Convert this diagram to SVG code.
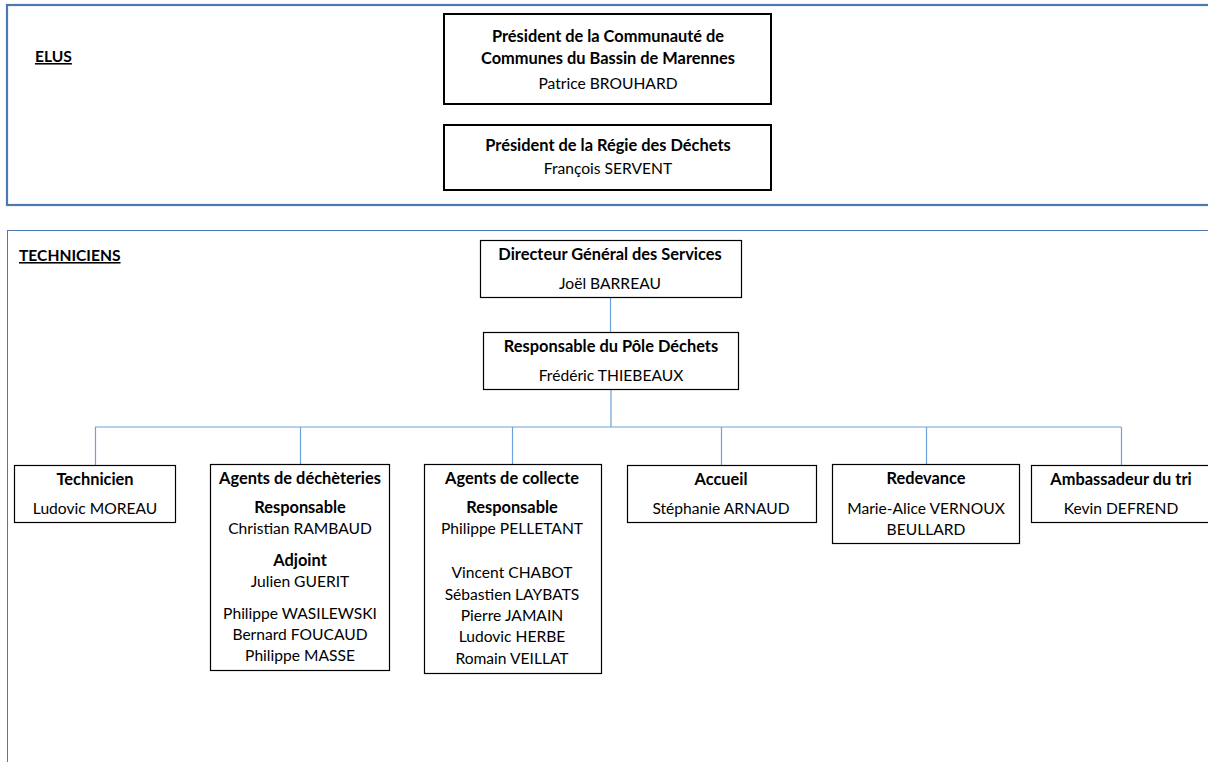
<svg xmlns="http://www.w3.org/2000/svg" width="1208" height="762" viewBox="0 0 1208 762">
<style>
text{font-family:Lato,"Liberation Sans",sans-serif;font-size:15.6px;fill:#000;text-anchor:middle}
.b{font-weight:bold;font-size:16.4px}
.lbl{text-anchor:start;font-weight:bold;text-decoration:underline;font-size:15.6px}
.box{fill:#fff;stroke:#000;stroke-width:1.2}
.box2{fill:#fff;stroke:#000;stroke-width:2}
.panel{fill:none;stroke:#4a7ab0}
.con{fill:none;stroke:#6aa2dc;stroke-width:1.2}
</style>
<rect width="1208" height="762" fill="#fff"/>
<g id="panel-elus">
<rect class="panel" x="7" y="5" width="1220" height="200" stroke-width="2.2"/>
<text class="lbl" x="35" y="62">ELUS</text>
</g>
<g id="panel-techniciens">
<rect class="panel" x="7.5" y="230.5" width="1220" height="560" stroke-width="1"/>
<text class="lbl" x="19" y="261">TECHNICIENS</text>
</g>
<g id="connectors">
<line class="con" x1="610.5" y1="297" x2="610.5" y2="332" stroke="#9cc3e8"/>
<line class="con" x1="611" y1="389" x2="611" y2="427" stroke-width="2"/>
<line class="con" x1="95" y1="427" x2="1121" y2="427" stroke-width="1.5"/>
<line class="con" x1="95.5" y1="427" x2="95.5" y2="465" stroke="#9cc3e8"/>
<line class="con" x1="300.5" y1="427" x2="300.5" y2="464" stroke="#9cc3e8"/>
<line class="con" x1="512.5" y1="427" x2="512.5" y2="464"/>
<line class="con" x1="721.5" y1="427" x2="721.5" y2="465"/>
<line class="con" x1="926.5" y1="427" x2="926.5" y2="464" stroke="#9cc3e8"/>
<line class="con" x1="1121.5" y1="427" x2="1121.5" y2="465"/>
</g>
<g id="president-ccbm">
<rect class="box2" x="444" y="14" width="327" height="90"/>
<text class="b" x="608" y="42">Président de la Communauté de</text>
<text class="b" x="608" y="64">Communes du Bassin de Marennes</text>
<text x="608" y="89">Patrice BROUHARD</text>
</g>
<g id="president-regie">
<rect class="box2" x="444" y="125" width="327" height="65"/>
<text class="b" x="608" y="151">Président de la Régie des Déchets</text>
<text x="608" y="174">François SERVENT</text>
</g>
<g id="dgs">
<rect class="box" x="480.5" y="240.5" width="261" height="57"/>
<text class="b" x="610" y="260">Directeur Général des Services</text>
<text x="610" y="289">Joël BARREAU</text>
</g>
<g id="resp-pole">
<rect class="box" x="483.5" y="332.5" width="255" height="57"/>
<text class="b" x="611" y="352">Responsable du Pôle Déchets</text>
<text x="611" y="381">Frédéric THIEBEAUX</text>
</g>
<g id="technicien">
<rect class="box" x="14.5" y="465.5" width="161" height="57"/>
<text class="b" x="95" y="485">Technicien</text>
<text x="95" y="514">Ludovic MOREAU</text>
</g>
<g id="decheteries">
<rect class="box" x="210.5" y="464.5" width="179" height="206"/>
<text class="b" x="300" y="484">Agents de déchèteries</text>
<text class="b" x="300" y="513">Responsable</text>
<text x="300" y="534">Christian RAMBAUD</text>
<text class="b" x="300" y="566">Adjoint</text>
<text x="300" y="587">Julien GUERIT</text>
<text x="300" y="619">Philippe WASILEWSKI</text>
<text x="300" y="640">Bernard FOUCAUD</text>
<text x="300" y="661">Philippe MASSE</text>
</g>
<g id="collecte">
<rect class="box" x="424.5" y="464.5" width="177" height="209"/>
<text class="b" x="512" y="484">Agents de collecte</text>
<text class="b" x="512" y="513">Responsable</text>
<text x="512" y="534">Philippe PELLETANT</text>
<text x="512" y="578">Vincent CHABOT</text>
<text x="512" y="600">Sébastien LAYBATS</text>
<text x="512" y="621">Pierre JAMAIN</text>
<text x="512" y="642">Ludovic HERBE</text>
<text x="512" y="664">Romain VEILLAT</text>
</g>
<g id="accueil">
<rect class="box" x="627.5" y="465.5" width="189" height="57"/>
<text class="b" x="721" y="485">Accueil</text>
<text x="721" y="514">Stéphanie ARNAUD</text>
</g>
<g id="redevance">
<rect class="box" x="832.5" y="464.5" width="187" height="79"/>
<text class="b" x="926" y="484">Redevance</text>
<text x="926" y="514">Marie-Alice VERNOUX</text>
<text x="926" y="535">BEULLARD</text>
</g>
<g id="ambassadeur">
<rect class="box" x="1031.5" y="465.5" width="190" height="57"/>
<text class="b" x="1121" y="485">Ambassadeur du tri</text>
<text x="1121" y="514">Kevin DEFREND</text>
</g>
</svg>
